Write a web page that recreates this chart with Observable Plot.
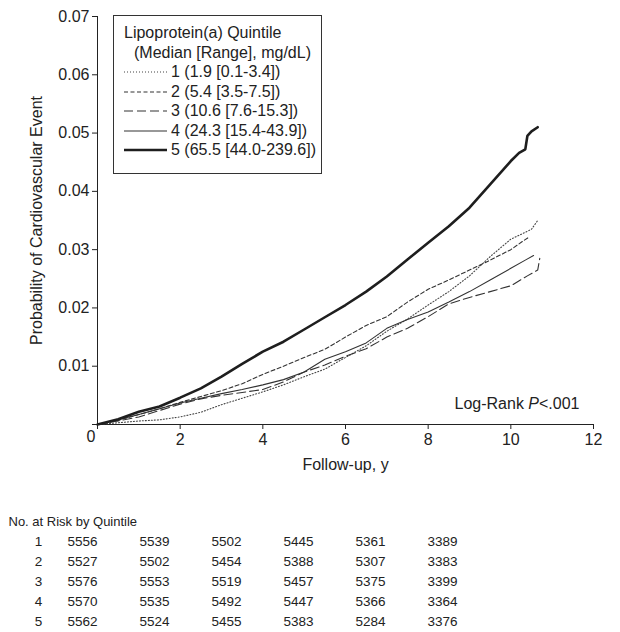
<!DOCTYPE html>
<html><head><meta charset="utf-8">
<script src="https://cdn.jsdelivr.net/npm/d3@7"></script>
<script src="https://cdn.jsdelivr.net/npm/@observablehq/plot@0.6"></script>
<style>
body{margin:0;background:#fff;}
#wrap{position:relative;width:620px;height:632px;font-family:"Liberation Sans",Arial,sans-serif;color:#222;background:#fff;}
#wrap > svg{display:block;}
.legend{position:absolute;left:113px;top:15px;width:207px;height:157px;border:1px solid #333;background:#fff;font-size:16px;color:#222;}
.legend .row{position:absolute;height:19.5px;line-height:19.5px;white-space:nowrap;}
.legend .row svg{position:absolute;left:0;top:5px;}
.legend .row span{position:absolute;left:47px;top:0;}
</style></head><body><div id="wrap"></div>
<script>
// ---- Curve data (years, cumulative probability) ----
const q1Years = [0,0.5,1,1.5,2,2.5,3,3.5,4,4.5,5,5.5,6,6.5,7,7.5,8,8.5,9,9.5,10,10.3,10.5,10.65];
const q1Risk  = [0,0.0003,0.0006,0.0008,0.0013,0.0021,0.0034,0.0045,0.0056,0.0068,0.0082,0.0095,0.0115,0.0135,0.0160,0.0181,0.0205,0.0228,0.0255,0.0288,0.0318,0.0328,0.0335,0.0350];

const q2Years = [0,0.5,1,1.5,2,2.5,3,3.5,4,4.5,5,5.5,6,6.5,7,7.5,8,8.5,9,9.5,10,10.3,10.45];
const q2Risk  = [0,0.0007,0.0017,0.0027,0.0038,0.0048,0.0058,0.0070,0.0086,0.0100,0.0115,0.0129,0.0150,0.0170,0.0185,0.0210,0.0232,0.0248,0.0265,0.0282,0.0300,0.0315,0.0322];

const q3Years = [0,0.5,1,1.5,2,2.5,3,3.5,4,4.5,5,5.5,6,6.5,7,7.5,8,8.5,9,9.5,10,10.4,10.65,10.7];
const q3Risk  = [0,0.0006,0.0013,0.0024,0.0035,0.0044,0.0050,0.0055,0.0060,0.0073,0.0090,0.0102,0.0117,0.0130,0.0150,0.0165,0.0185,0.0207,0.0218,0.0228,0.0238,0.0255,0.0265,0.0285];

const q4Years = [0,0.5,1,1.5,2,2.5,3,3.5,4,4.5,5,5.5,6,6.5,7,7.5,8,8.5,9,9.5,10,10.35,10.55];
const q4Risk  = [0,0.0008,0.0017,0.0027,0.0037,0.0045,0.0053,0.0060,0.0068,0.0077,0.0090,0.0112,0.0125,0.0140,0.0165,0.0180,0.0193,0.0210,0.0228,0.0248,0.0268,0.0282,0.0290];

const q5Years = [0,0.5,1,1.5,2,2.5,3,3.5,4,4.5,5,5.5,6,6.5,7,7.5,8,8.5,9,9.5,10,10.2,10.35,10.4,10.5,10.65];
const q5Risk  = [0,0.0009,0.0022,0.0031,0.0046,0.0062,0.0082,0.0104,0.0125,0.0142,0.0163,0.0184,0.0205,0.0228,0.0254,0.0283,0.0312,0.0340,0.0372,0.0412,0.0452,0.0466,0.0472,0.0495,0.0503,0.0510];

// ---- Labels ----
const legendTitle = ["Lipoprotein(a) Quintile", "(Median [Range], mg/dL)"];
const legendLabels = ["1 (1.9 [0.1-3.4])", "2 (5.4 [3.5-7.5])", "3 (10.6 [7.6-15.3])", "4 (24.3 [15.4-43.9])", "5 (65.5 [44.0-239.6])"];
const xTicks = [0,2,4,6,8,10,12];
const yTicks = [0,0.01,0.02,0.03,0.04,0.05,0.06,0.07];
const xLabel = "Follow-up, y";
const yLabel = "Probability of Cardiovascular Event";
const pText = "Log-Rank P<.001";

// ---- Number at risk table ----
const tableTitle = "No. at Risk by Quintile";
const quintiles = ["1","2","3","4","5"];
const atRisk1 = [5556,5539,5502,5445,5361,3389];
const atRisk2 = [5527,5502,5454,5388,5307,3383];
const atRisk3 = [5576,5553,5519,5457,5375,3399];
const atRisk4 = [5570,5535,5492,5447,5366,3364];
const atRisk5 = [5562,5524,5455,5383,5284,3376];

// ---- Styles per series ----
const styles = [
  {dash:"1,2", width:1.1, color:"#444"},
  {dash:"4,2.5", width:1.1, color:"#333"},
  {dash:"9,4", width:1.1, color:"#333"},
  {dash:null, width:1.1, color:"#333"},
  {dash:null, width:2.6, color:"#1e1e1e"}
];
const seriesYears = [q1Years,q2Years,q3Years,q4Years,q5Years];
const seriesRisk = [q1Risk,q2Risk,q3Risk,q4Risk,q5Risk];
const lineData = quintiles.map((q,i)=> seriesYears[i].map((t,j)=>({q, t, p: seriesRisk[i][j]})));

const font = '"Liberation Sans", Arial, sans-serif';

const main = Plot.plot({
  width: 620, height: 480,
  marginLeft: 97, marginRight: 27, marginTop: 16, marginBottom: 56,
  style: {fontFamily: font, fontSize: "16px", color: "#222", background: "#fff", overflow: "visible"},
  x: {domain: [0, 12]},
  y: {domain: [0, 0.07]},
  marks: [
    Plot.axisY({ticks: yTicks, tickFormat: d => d === 0 ? "" : d.toFixed(2), tickSize: 5, tickPadding: 3,
      label: yLabel, labelAnchor: "center", labelOffset: 67, labelArrow: false}),
    Plot.axisX({ticks: xTicks, tickFormat: d => d === 0 ? "" : String(d), tickSize: 5, tickPadding: 4,
      label: xLabel, labelAnchor: "center", labelOffset: 45, labelArrow: false}),
    Plot.ruleX([0], {stroke: "#222"}),
    Plot.ruleY([0], {stroke: "#222"}),
    Plot.text(["0"], {frameAnchor: "bottom-left", dx: -11, dy: 17, fontSize: 16}),
    ...lineData.map((d,i) => Plot.line(d, {x: "t", y: "p", stroke: styles[i].color, strokeWidth: styles[i].width,
      strokeDasharray: styles[i].dash, strokeLinejoin: "miter"})),
    Plot.text([pText], {frameAnchor: "bottom-right", dx: -14, dy: -16, fontSize: 16, textAnchor: "end"})
  ]
});

// italic P
main.querySelectorAll("text").forEach(t => {
  if (t.textContent === pText) {
    const ns = "http://www.w3.org/2000/svg";
    t.textContent = "";
    const a = document.createElementNS(ns, "tspan"); a.textContent = "Log-Rank ";
    const b = document.createElementNS(ns, "tspan"); b.textContent = "P"; b.setAttribute("font-style", "italic");
    const c = document.createElementNS(ns, "tspan"); c.textContent = "<.001";
    t.append(a, b, c);
  }
});

const atRisk = [atRisk1, atRisk2, atRisk3, atRisk4, atRisk5];
const cells = quintiles.flatMap((q,i) => atRisk[i].map((n,j) => ({row: q, col: j, n})));

const table = Plot.plot({
  width: 620, height: 152,
  marginLeft: 67, marginRight: 193, marginTop: 40, marginBottom: 10,
  style: {fontFamily: font, fontSize: "13px", color: "#222", background: "#fff", overflow: "visible"},
  x: {domain: [0, 5], axis: null},
  y: {type: "point", domain: ["header", ...quintiles], padding: 0, axis: null},
  marks: [
    Plot.text(cells, {x: "col", y: "row", text: d => String(d.n), textAnchor: "start", fontSize: 13.5}),
    Plot.text(quintiles, {x: () => 0, y: d => d, text: d => d, dx: -29, fontSize: 13.5}),
    Plot.text([tableTitle], {x: () => 0, y: () => "header", dx: -59, textAnchor: "start", fontSize: 13})
  ]
});

const wrap = document.getElementById("wrap");
wrap.append(main, table);

// legend
const legend = document.createElement("div");
legend.className = "legend";
const rowH = 19.5, top0 = 7.25;
legendTitle.forEach((txt, i) => {
  const r = document.createElement("div");
  r.className = "row";
  r.style.left = (i === 0 ? 10 : 20) + "px";
  r.style.top = (top0 + rowH*i) + "px";
  r.textContent = txt;
  legend.append(r);
});
legendLabels.forEach((txt, i) => {
  const r = document.createElement("div");
  r.className = "row";
  r.style.left = "10px";
  r.style.width = "195px";
  r.style.top = (top0 + rowH*(i+2)) + "px";
  const s = styles[i];
  r.innerHTML = `<svg width="43" height="10"><line x1="0" x2="43" y1="5" y2="5" stroke="${s.color}" stroke-width="${s.width}" ${s.dash ? `stroke-dasharray="${s.dash}"` : ""}/></svg><span></span>`;
  r.querySelector("span").textContent = txt;
  legend.append(r);
});
wrap.append(legend);
</script></body></html>
